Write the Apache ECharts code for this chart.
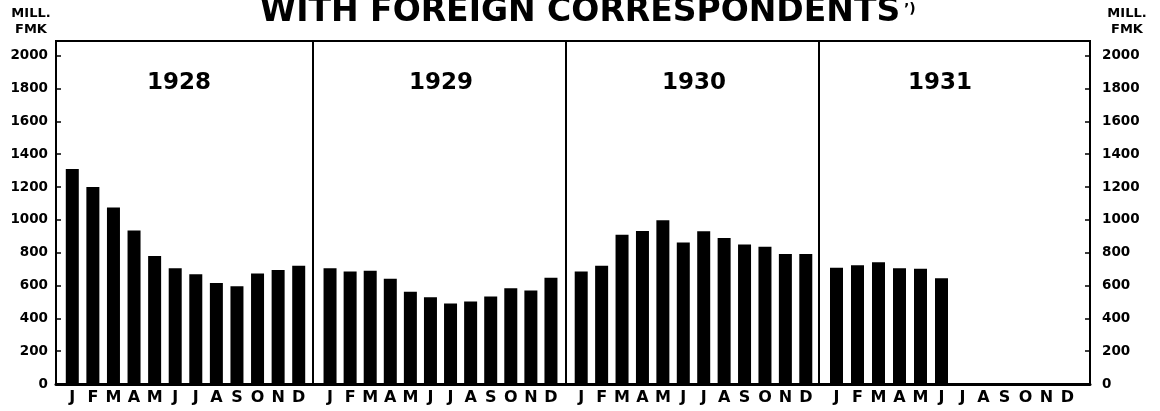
<!DOCTYPE html>
<html>
<head>
<meta charset="utf-8">
<script src="https://cdn.jsdelivr.net/npm/echarts@6/dist/echarts.min.js"></script>
<style>
html,body{margin:0;padding:0;background:#fff;}
#c{width:1160px;height:411px;}
</style>
</head>
<body>
<div id="c"></div>
<script>
const months = ['J','F','M','A','M','J','J','A','S','O','N','D'];
const years = ['1928','1929','1930','1931'];
const v1928 = [1310,1200,1075,935,780,705,668,615,595,673,695,720];
const v1929 = [705,685,690,642,562,528,490,502,533,583,570,648];
const v1930 = [685,720,910,933,998,862,930,890,850,837,792,792];
const v1931 = [708,724,742,705,703,644];
const seriesData = [v1928, v1929, v1930, v1931];
const unitLabel = 'MILL.\nFMK';
const titleText = 'WITH FOREIGN CORRESPONDENTS';

// panel frames
const frameLefts = [56, 313, 566, 819];
const frameWidths = [257, 253, 253, 271];
// inner bar areas inside each panel
const barLefts = [62, 320, 571, 826];
const barWidths = [247, 241, 245, 252];
const yearCenters = [179, 441, 694, 940];
const FONT = 'DejaVu Sans';
const TOP = 41, BOTTOM = 27, YMAX = 2090;

const chart = echarts.init(document.getElementById('c'), null, {renderer: 'canvas'});

const grids = frameLefts.map((l, i) => ({
  left: l, width: frameWidths[i], top: TOP, bottom: BOTTOM,
  show: true, borderColor: '#000', borderWidth: 2, backgroundColor: 'transparent'
})).concat(barLefts.map((l, i) => ({
  left: l, width: barWidths[i], top: TOP, bottom: BOTTOM, show: false
})));

const xAxes = frameLefts.map((l, i) => ({
  type: 'category', gridIndex: i, data: months, show: true,
  axisLine: {show: true, onZero: false, lineStyle: {color: '#000', width: 3}},
  axisTick: {show: false}, axisLabel: {show: false}
})).concat(barLefts.map((l, i) => ({
  type: 'category', gridIndex: 4 + i, data: months,
  axisLine: {show: false},
  axisTick: {show: false},
  axisLabel: {color: '#000', fontFamily: FONT, fontWeight: 'bold', fontSize: 16, margin: 6, interval: 0}
})));

const yAxes = frameLefts.map((l, i) => {
  const isLeft = i === 0, isRight = i === 3;
  return {
    type: 'value', gridIndex: i, min: 0, max: YMAX, interval: 200,
    position: isRight ? 'right' : 'left',
    show: isLeft || isRight,
    splitLine: {show: false},
    axisLine: {show: true, lineStyle: {color: '#000', width: 2}},
    axisTick: {show: true, inside: true, length: 5, lineStyle: {color: '#000', width: 1.5}},
    axisLabel: {
      color: '#000', fontFamily: FONT, fontWeight: 'bold', fontSize: 13.5,
      margin: isRight ? 12 : 8,
      showMaxLabel: false,
      formatter: v => (v % 200 === 0 ? String(v) : '')
    }
  };
}).concat(barLefts.map((l, i) => ({
  type: 'value', gridIndex: 4 + i, min: 0, max: YMAX, interval: 200, show: false,
  splitLine: {show: false}
})));

const series = seriesData.map((d, i) => ({
  type: 'bar', xAxisIndex: 4 + i, yAxisIndex: 4 + i, data: d,
  barWidth: 13, itemStyle: {color: '#000'}, silent: true, animation: false
}));

const graphics = [
  {type: 'text', left: 'center', top: -4, style: {
    text: titleText, font: 'bold 33px "DejaVu Sans"', fill: '#000'}},
  {type: 'text', x: 904, y: 2, style: {
    text: '’)', font: 'bold 14px "DejaVu Sans"', fill: '#000'}},
  {type: 'text', x: 31, y: 6, style: {
    text: unitLabel, font: 'bold 13px "DejaVu Sans"', fill: '#000', align: 'center', lineHeight: 16}},
  {type: 'text', x: 1127, y: 6, style: {
    text: unitLabel, font: 'bold 13px "DejaVu Sans"', fill: '#000', align: 'center', lineHeight: 16}}
].concat(years.map((y, i) => ({
  type: 'text', x: yearCenters[i], y: 83, style: {
    text: y, font: 'bold 23px "DejaVu Sans"', fill: '#000',
    align: 'center', verticalAlign: 'middle'}
})));

chart.setOption({
  backgroundColor: '#fff',
  animation: false,
  grid: grids,
  xAxis: xAxes,
  yAxis: yAxes,
  series: series,
  graphic: graphics
});
</script>
</body>
</html>
